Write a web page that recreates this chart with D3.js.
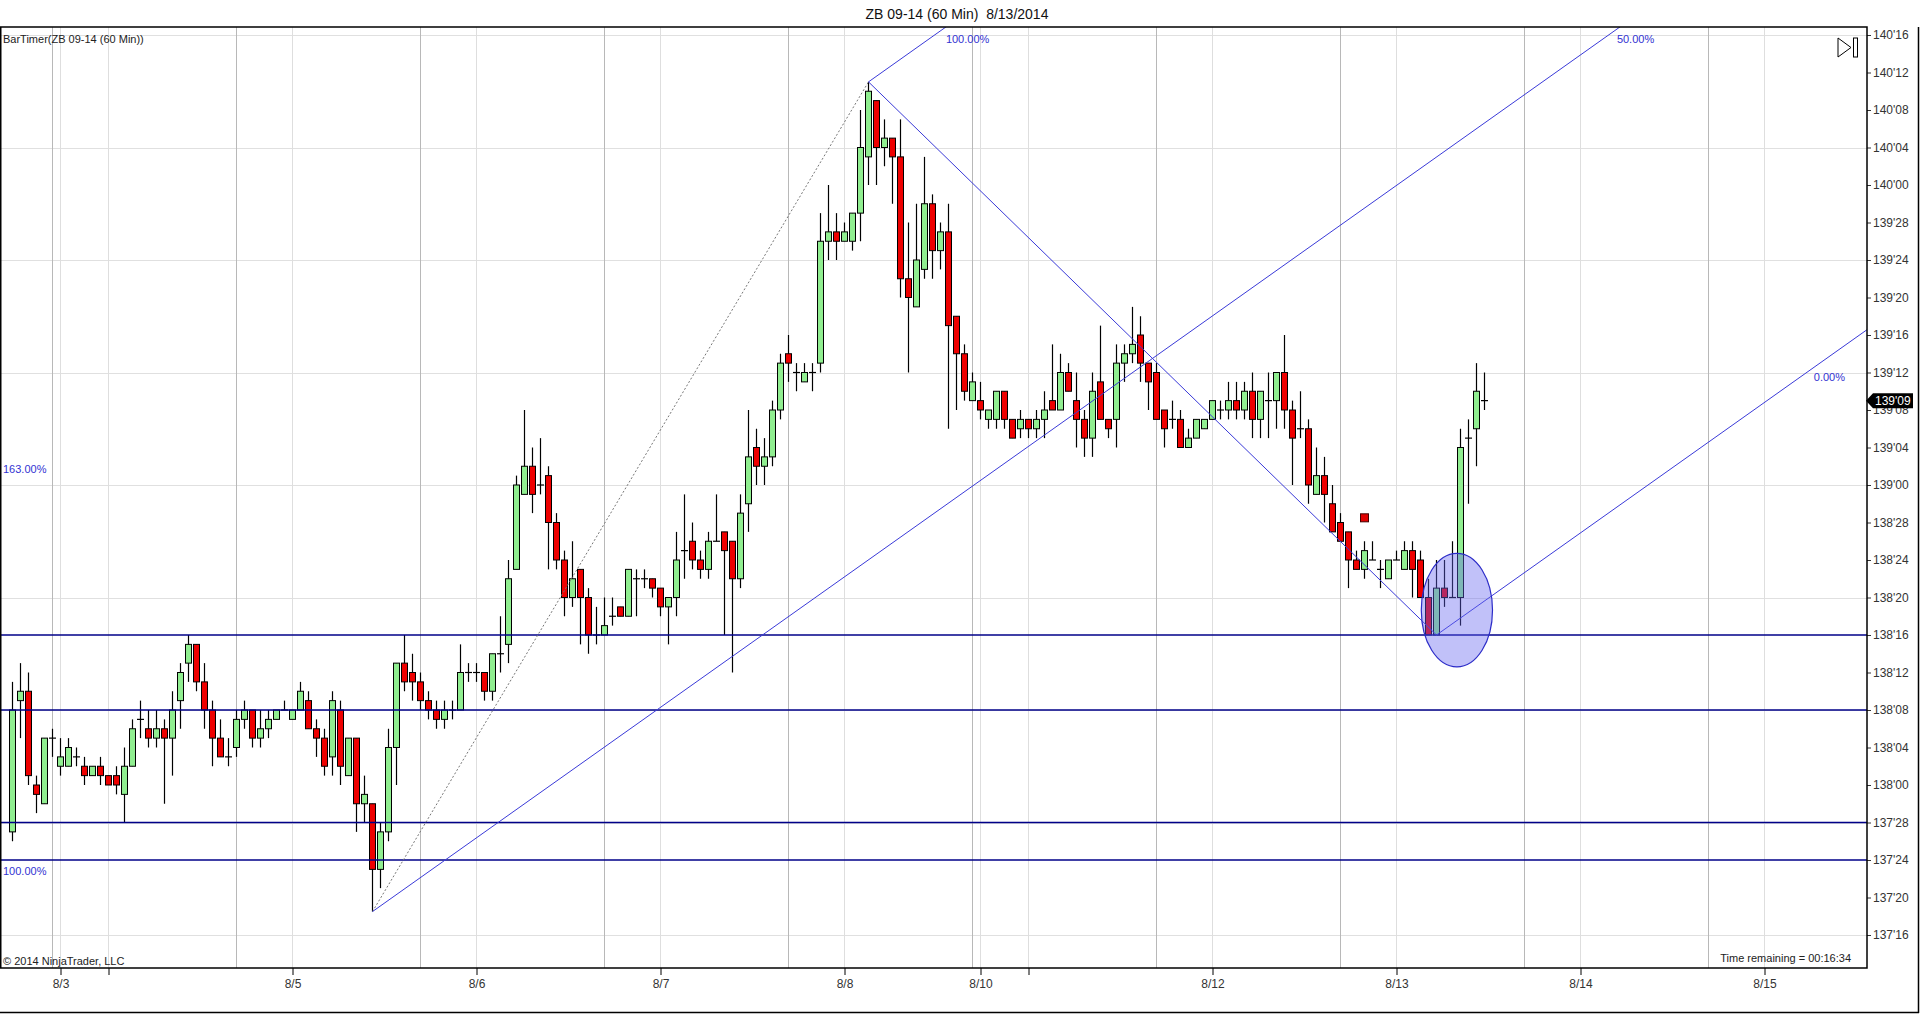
<!DOCTYPE html>
<html>
<head>
<meta charset="utf-8">
<script src="https://cdn.jsdelivr.net/npm/d3@7"></script>
<style>
  body { margin: 0; background: #fff; }
  svg { display: block; font-family: "Liberation Sans", Arial, sans-serif; }
</style>
</head>
<body>
<svg id="chart" width="1920" height="1014"></svg>
<script>
// 60 min bars, prices in 32nds above 137'00
const opens = [27,41,42,32,30,37,34,34,35,34,33,34,33,33,31,34,39,38,37,38,37,41,45,47,43,40,37,35,36,39,
  40,37,38,39,40,39,40,41,38,37,35,40,33,37,30,30,23,27,36,45,44,43,41,40,39,40,40,44,44,44,
  42,46,47,55,63,66,64,65,60,56,52,55,52,48,48,50,51,50,54,54,54,53,51,52,57,58,56,55,58,59,
  58,54,62,68,66,67,72,78,76,75,76,77,90,91,90,90,93,99,105,100,101,99,86,83,87,94,89,91,82,78,
  73,73,71,71,74,71,70,71,70,71,73,72,76,73,71,69,75,71,71,77,78,80,77,76,72,71,71,68,69,70,
  71,72,72,73,72,74,71,73,73,76,72,70,70,63,65,62,60,59,56,55,56,55,54,56,55,57,56,52,48,53,
  52,52,69,70,73];
const highs = [43,45,44,33,37,38,37,37,36,35,34,35,33,34,36,39,41,40,40,39,42,45,48,47,45,41,39,37,40,41,
  40,40,40,40,41,40,43,42,39,38,42,41,37,37,33,30,28,38,45,48,46,44,42,41,41,41,47,45,45,44,
  46,50,56,65,72,68,69,66,61,57,58,55,53,51,52,52,51,55,55,55,54,53,52,59,63,60,57,59,63,59,
  58,63,72,70,69,73,78,80,77,77,77,93,96,93,92,93,104,107,105,103,101,103,92,94,99,95,92,94,82,79,
  76,75,72,74,74,71,72,71,72,74,79,78,77,76,72,76,81,71,79,79,83,82,77,77,72,73,72,70,71,71,
  73,73,75,75,75,76,74,76,76,80,73,74,71,68,67,64,61,59,57,58,58,56,56,57,58,58,57,54,56,56,
  58,70,71,77,76];
const lows = [26,37,32,29,30,35,33,34,34,32,33,32,32,31,28,34,37,36,36,30,33,38,43,42,38,34,35,34,35,38,
  36,36,37,39,40,39,40,38,35,33,33,32,33,27,28,18.5,21,26,32,42,41,40,39,38,38,39,40,43,43,41,
  41,44,45,55,63,61,63,55,55,50,51,47,46,47,48,49,50,50,50,53,52,50,47,50,54,55,54,54,58,48,
  44,53,59,64,64,66,71,75,74,75,74,76,88,88,90,89,90,96,96,98,94,84,76,83,86,86,87,70,72,73,
  73,71,70,70,70,69,69,69,69,69,72,72,74,68,67,67,71,69,68,75,77,75,72,71,68,70,68,68,69,70,
  71,71,71,71,71,69,69,69,70,70,64,69,62,63,60,59,58,53,55,54,56,53,54,56,55,52,52,48,48,51,
  52,49,62,66,72];
const closes = [40,42,33,31,37,37,35,36,35,33,34,33,32,32,34,38,39,37,38,37,40,44,47,43,40,37,35,35,39,40,
  37,38,39,40,40,40,42,38,37,34,41,34,37,30,31,23,27,36,45,43,43,41,40,39,40,40,44,44,44,42,
  46,46,54,64,66,63,64,60,56,52,54,52,48,48,49,50,50,55,54,54,53,51,52,56,57,56,55,58,58,57,
  54,61,67,66,67,72,77,77,76,76,76,90,91,90,91,93,100,106,100,101,99,86,84,88,94,89,91,81,78,74,
  75,72,72,74,71,69,71,70,71,72,72,76,74,71,69,74,71,70,77,78,79,77,75,71,70,71,68,69,71,71,
  73,72,73,72,74,71,74,73,76,72,69,70,64,65,63,59,58,56,55,57,56,55,56,56,57,55,52,48,53,52,
  52,68,69,74,73];

// axis ticks
const priceTicks = [16,20,24,28,32,36,40,44,48,52,56,60,64,68,72,76,80,84,88,92,96,100,104,108,112];
const priceGrid = [16,28,40,52,64,76,88,100,112];
const dateTickIdx = [6,12,35,58,81,104,121,127,150,173,196,219];
const dateTickLabels = ["8/3","","8/5","8/6","8/7","8/8","8/10","","8/12","8/13","8/14","8/15"];
const sessionBreaks = [5,28,51,74,97,120,143,166,189,212];

// drawings
const hLevels = [48,40,28,24];
const forkA = { i: 45, p: 18.5 };
const forkB = { i: 107, p: 107 };
const forkC = { i: 178, p: 48 };
const ellipseBox = { i0: 176.1, i1: 185.0, p0: 44.6, p1: 56.7 };
const markerIdx = 169, markerPrice = 60.5;
const lastPrice = 73;

const plot = { l: 0, t: 27, r: 1867, b: 968 };
const svg = d3.select("#chart");

const x = d3.scaleLinear().domain([0, 231]).range([12.5, 12.5 + 8 * 231]);
const y = d3.scaleLinear().domain([16, 112]).range([935, 35]);

const fmt = (p) => (137 + Math.floor(p / 32)) + "'" + String(p % 32).padStart(2, "0");

svg.append("defs").append("clipPath").attr("id", "plotClip")
  .append("rect").attr("x", plot.l).attr("y", plot.t)
  .attr("width", plot.r - plot.l).attr("height", plot.b - plot.t);

// Title
svg.append("text").attr("x", 957).attr("y", 19).attr("text-anchor", "middle")
  .style("font-size", "14px").style("white-space", "pre").attr("fill", "#111")
  .text("ZB 09-14 (60 Min)  8/13/2014");

const g = svg.append("g").attr("clip-path", "url(#plotClip)");

// grid
g.selectAll(".hgrid").data(priceGrid).enter().append("line")
  .attr("x1", plot.l).attr("x2", plot.r)
  .attr("y1", (d) => Math.round(y(d)) + 0.5).attr("y2", (d) => Math.round(y(d)) + 0.5)
  .attr("stroke", "#e0e0e0");
g.selectAll(".vgrid").data(dateTickIdx).enter().append("line")
  .attr("x1", (d) => x(d)).attr("x2", (d) => x(d))
  .attr("y1", plot.t).attr("y2", plot.b).attr("stroke", "#dedede");
g.selectAll(".sess").data(sessionBreaks).enter().append("line")
  .attr("x1", (d) => x(d)).attr("x2", (d) => x(d))
  .attr("y1", plot.t).attr("y2", plot.b).attr("stroke", "#b8b8b8");

// candles
const candles = opens.map((o, i) => ({ i, o, h: highs[i], l: lows[i], c: closes[i] }));

g.selectAll(".wick").data(candles).enter().append("line")
  .attr("x1", (d) => x(d.i)).attr("x2", (d) => x(d.i))
  .attr("y1", (d) => y(d.h)).attr("y2", (d) => y(d.l))
  .attr("stroke", "#000").attr("stroke-width", 1.2);

g.selectAll(".body").data(candles.filter((d) => d.o !== d.c)).enter().append("rect")
  .attr("x", (d) => x(d.i) - 3)
  .attr("y", (d) => y(Math.max(d.o, d.c)))
  .attr("width", 6)
  .attr("height", (d) => Math.abs(y(d.o) - y(d.c)))
  .attr("fill", (d) => (d.c > d.o ? "#90ee90" : "#ee0000"))
  .attr("stroke", "#000").attr("stroke-width", 1);

g.selectAll(".doji").data(candles.filter((d) => d.o === d.c)).enter().append("line")
  .attr("x1", (d) => x(d.i) - 3.5).attr("x2", (d) => x(d.i) + 3.5)
  .attr("y1", (d) => y(d.c)).attr("y2", (d) => y(d.c))
  .attr("stroke", "#000").attr("stroke-width", 1.2);

// marker square
g.append("rect").attr("x", x(markerIdx) - 4).attr("y", y(markerPrice) - 4)
  .attr("width", 8).attr("height", 8).attr("fill", "#e00000").attr("stroke", "#400");

// horizontal levels
g.selectAll(".level").data(hLevels).enter().append("line")
  .attr("x1", plot.l).attr("x2", plot.r)
  .attr("y1", (d) => y(d)).attr("y2", (d) => y(d))
  .attr("stroke", "#000088").attr("stroke-width", 1.3);

// pitchfork
const mid = { i: (forkB.i + forkC.i) / 2, p: (forkB.p + forkC.p) / 2 };
const slope = (mid.p - forkA.p) / (mid.i - forkA.i);
const far = (pt) => ({ i: pt.i + 300, p: pt.p + slope * 300 });
const seg = (a, b) => g.append("line")
  .attr("x1", x(a.i)).attr("y1", y(a.p)).attr("x2", x(b.i)).attr("y2", y(b.p));

seg(forkA, forkB).attr("stroke", "#777").attr("stroke-dasharray", "2,2");
seg(forkB, forkC).attr("stroke", "#3a3ad8");
seg(forkA, far(forkA)).attr("stroke", "#3a3ad8");
seg(forkB, far(forkB)).attr("stroke", "#3a3ad8");
seg(forkC, far(forkC)).attr("stroke", "#3a3ad8");

// ellipse
g.append("ellipse")
  .attr("cx", x((ellipseBox.i0 + ellipseBox.i1) / 2))
  .attr("cy", y((ellipseBox.p0 + ellipseBox.p1) / 2))
  .attr("rx", (x(ellipseBox.i1) - x(ellipseBox.i0)) / 2)
  .attr("ry", (y(ellipseBox.p0) - y(ellipseBox.p1)) / 2)
  .attr("fill", "#6464f0").attr("fill-opacity", 0.4)
  .attr("stroke", "#2c2cc8").attr("stroke-width", 1.2);

// drawing labels
const blue = "#3232d2";
const pTop = y.invert(plot.t);
const topX = (pt) => x(pt.i + (pTop - pt.p) / slope);
const lbl = (tx, ty, s, anchor) => svg.append("text").attr("x", tx).attr("y", ty)
  .attr("text-anchor", anchor || "start").style("font-size", "11px").attr("fill", blue).text(s);
lbl(topX(forkB), 43, "100.00%");
lbl(topX(forkA) - 3, 43, "50.00%");
const iLbl = x.invert(1830);
lbl(1845, y(forkC.p + slope * (iLbl - forkC.i)) + 25, "0.00%", "end");
lbl(3, 473, "163.00%");
lbl(3, y(24) + 15, "100.00%");

// plot texts
svg.append("text").attr("x", 3).attr("y", 43).style("font-size", "11px")
  .attr("fill", "#222").text("BarTimer(ZB 09-14 (60 Min))");
svg.append("text").attr("x", 3).attr("y", 965).style("font-size", "11px")
  .attr("fill", "#222").text("\u00a9 2014 NinjaTrader, LLC");
svg.append("text").attr("x", 1851).attr("y", 962).attr("text-anchor", "end")
  .style("font-size", "11px").attr("fill", "#222").text("Time remaining = 00:16:34");

// scroll-to-end icon
svg.append("path").attr("d", "M1838,38 L1851,47.5 L1838,57 Z")
  .attr("fill", "#fff").attr("stroke", "#000");
svg.append("rect").attr("x", 1853.5).attr("y", 38).attr("width", 4).attr("height", 19)
  .attr("fill", "#fff").attr("stroke", "#000");

// price axis
const yAxis = svg.append("g").attr("transform", `translate(${plot.r},0)`)
  .call(d3.axisRight(y).tickValues(priceTicks).tickFormat(fmt).tickSize(4).tickPadding(2));
yAxis.select(".domain").remove();
yAxis.selectAll("text").style("font-size", "12px").attr("fill", "#333")
  .style("font-family", "'Liberation Sans', Arial, sans-serif");
yAxis.selectAll("line").attr("stroke", "#333");

// time axis
const xAxis = svg.append("g").attr("transform", `translate(0,${plot.b})`)
  .call(d3.axisBottom(x).tickValues(dateTickIdx)
    .tickFormat((d, k) => dateTickLabels[k]).tickSize(7).tickPadding(4));
xAxis.select(".domain").remove();
xAxis.selectAll("text").style("font-size", "12px").attr("fill", "#333")
  .style("font-family", "'Liberation Sans', Arial, sans-serif");
xAxis.selectAll("line").attr("stroke", "#000");

// last price tag
const ly = y(lastPrice);
svg.append("path")
  .attr("d", `M1866,${ly} L1873,${ly - 7.5} L1913,${ly - 7.5} L1913,${ly + 7.5} L1873,${ly + 7.5} Z`)
  .attr("fill", "#000");
svg.append("text").attr("x", 1875).attr("y", ly + 4.5).style("font-size", "12px")
  .attr("fill", "#fff").text(fmt(lastPrice));

// frames
svg.append("rect").attr("x", plot.l + 0.75).attr("y", plot.t)
  .attr("width", plot.r - plot.l - 0.75).attr("height", plot.b - plot.t)
  .attr("fill", "none").attr("stroke", "#000").attr("stroke-width", 1.5);
svg.append("line").attr("x1", 0).attr("x2", 1919).attr("y1", 1012.5).attr("y2", 1012.5)
  .attr("stroke", "#000").attr("stroke-width", 1.5);
svg.append("line").attr("x1", 1918.5).attr("x2", 1918.5).attr("y1", plot.t).attr("y2", 1013)
  .attr("stroke", "#000").attr("stroke-width", 1.5);
</script>
</body>
</html>
